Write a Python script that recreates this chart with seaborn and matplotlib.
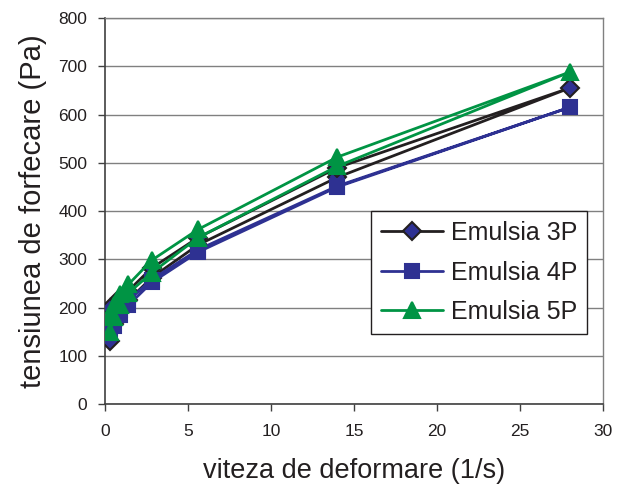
import matplotlib
matplotlib.use("Agg")
import matplotlib.pyplot as plt
import seaborn as sns
import pandas as pd
from matplotlib.lines import Line2D

# Shear rate sweep: up to 28 1/s and back down (hysteresis loop)
shear_rate = [0.3, 0.5, 0.9, 1.4, 2.8, 5.6, 14, 28, 14, 5.6, 2.8, 1.4, 0.9, 0.5, 0.3]

stress_3p = [130, 165, 195, 215, 262, 330, 470, 655, 490, 345, 282, 235, 220, 205, 200]
stress_4p = [150, 162, 185, 205, 252, 315, 450, 615, 452, 320, 258, 215, 195, 178, 162]
stress_5p = [150, 180, 205, 230, 272, 345, 493, 688, 512, 362, 298, 248, 228, 205, 182]

series_names = ["Emulsia 3P", "Emulsia 4P", "Emulsia 5P"]
series_values = [stress_3p, stress_4p, stress_5p]
colors = ["#231f20", "#2e3192", "#009444"]
markers = ["D", "s", "^"]
marker_sizes = [9, 10, 12]
face_colors = ["#2e3192", "#2e3192", "#009444"]

x_label = "viteza de deformare (1/s)"
y_label = "tensiunea de forfecare (Pa)"

sns.set_style("white")
plt.rcParams["font.family"] = ["Liberation Sans", "DejaVu Sans"]

fig = plt.figure(figsize=(6.19, 4.88), dpi=100)
ax = fig.add_axes([0.170, 0.172, 0.804, 0.791])

handles = []
for name, vals, col, mk, ms, fc in zip(series_names, series_values, colors,
                                       markers, marker_sizes, face_colors):
    df = pd.DataFrame({"x": shear_rate, "y": vals})
    sns.lineplot(data=df, x="x", y="y", sort=False, estimator=None, ax=ax,
                 color=col, linewidth=2, marker=mk, markersize=ms,
                 markerfacecolor=fc, markeredgecolor=col, markeredgewidth=1.5,
                 zorder=3)
    handles.append(Line2D([], [], color=col, linewidth=2, marker=mk,
                          markersize=ms, markerfacecolor=fc,
                          markeredgecolor=col, markeredgewidth=1.5))

ax.set_xlim(0, 30)
ax.set_ylim(0, 800)
ax.set_xticks(range(0, 31, 5))
ax.set_yticks(range(0, 801, 100))
ax.yaxis.grid(True, color="#808080", linewidth=1)
ax.xaxis.grid(False)
ax.set_axisbelow(True)

for side in ["left", "bottom"]:
    ax.spines[side].set_color("#404040")
    ax.spines[side].set_linewidth(1.2)
for side in ["right", "top"]:
    ax.spines[side].set_color("#808080")
    ax.spines[side].set_linewidth(1)

ax.tick_params(axis="both", direction="out", length=5, width=1,
               color="#404040", labelsize=12.5, labelcolor="#231f20",
               bottom=True, left=True)
ax.tick_params(axis="x", pad=9)
ax.tick_params(axis="y", pad=8)

ax.set_xlabel(x_label, fontsize=19.5, color="#231f20", labelpad=14)
ax.set_ylabel(y_label, fontsize=21, color="#231f20", labelpad=8)

leg = ax.legend(handles, series_names, loc="upper left",
                bbox_to_anchor=(0.534, 0.50), borderaxespad=0, fontsize=18,
                frameon=True, fancybox=False, edgecolor="#231f20",
                framealpha=1, handlelength=2.5, handletextpad=0.3,
                borderpad=0.4, labelspacing=0.62)
leg.get_frame().set_linewidth(1.0)
for t in leg.get_texts():
    t.set_color("#231f20")

fig.savefig("out.png", dpi=100)
